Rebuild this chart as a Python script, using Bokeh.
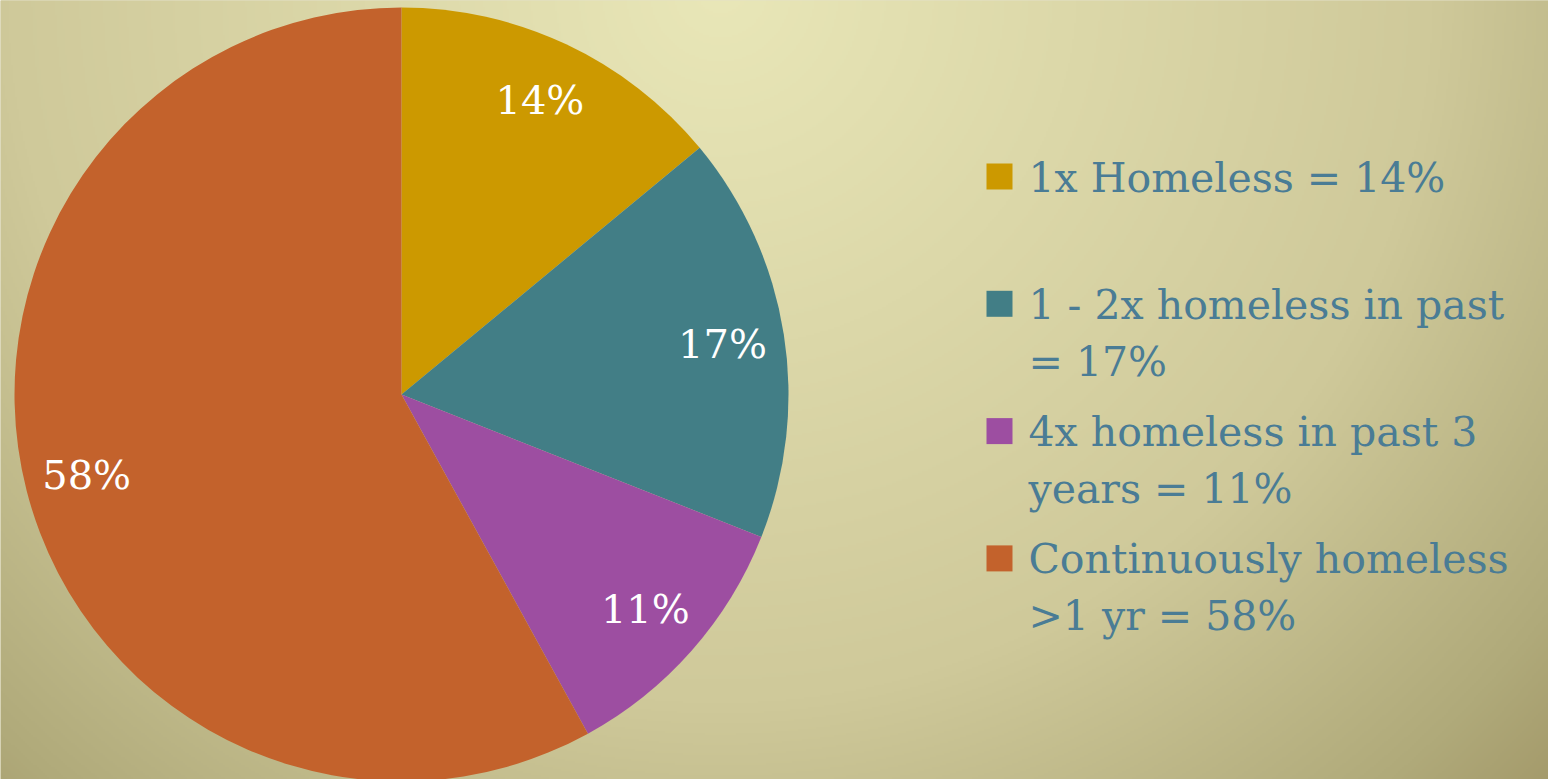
import numpy as np
from bokeh.plotting import figure
from bokeh.models import Range1d, ColumnDataSource
from bokeh.core.properties import value
from bokeh.embed import file_html
from bokeh.resources import INLINE

# ---- data ----
categories = ["1x Homeless", "1 - 2x homeless in past", "4x homeless in past 3 years", "Continuously homeless >1 yr"]
percents = [14, 17, 11, 58]
slice_labels = ["14%", "17%", "11%", "58%"]
legend_lines = [
    ["1x Homeless = 14%"],
    ["1 - 2x homeless in past", "= 17%"],
    ["4x homeless in past 3", "years = 11%"],
    ["Continuously homeless", ">1 yr = 58%"],
]
colors = ["#CC9900", "#427E86", "#9D4EA1", "#C3622C"]

W, H = 1548, 779

p = figure(width=W, height=H, output_backend="svg", toolbar_location=None,
           x_range=Range1d(0, W), y_range=Range1d(0, H), min_border=0)
p.axis.visible = False
p.grid.visible = False
p.outline_line_color = None
p.background_fill_color = "#C9C393"
p.border_fill_color = "#C9C393"

# ---- background radial gradient (style) ----
sc = 2
gw, gh = W // sc, H // sc + 1
xs = (np.arange(gw) + 0.5) * sc
ys_data = (np.arange(gh) + 0.5) * sc
ys_ref = H - ys_data
X, Y = np.meshgrid(xs, ys_ref)
d = np.sqrt((X - 720.0) ** 2 + (Y + 10.0) ** 2) / 1150.0
stops = [0.0, 0.62, 0.9, 1.05]
cols = np.array([[233, 231, 184], [207, 201, 154], [176, 170, 122], [158, 146, 99]], dtype=float)
img = np.zeros((gh, gw, 4), dtype=np.uint8)
for c in range(3):
    img[..., c] = np.interp(d, stops, cols[:, c]).astype(np.uint8)
img[..., 3] = 255
p.image_rgba(image=[img.view(dtype=np.uint32).reshape((gh, gw))], x=0, y=0, dw=W, dh=gh * sc)

# ---- pie ----
cx, cy = 401, H - 394
R = 387
vals = np.array(percents, dtype=float)
frac = vals / vals.sum()
cum = np.concatenate([[0], np.cumsum(frac)])
start_deg = 90 - cum[:-1] * 360
end_deg = 90 - cum[1:] * 360
src = ColumnDataSource(dict(start=np.radians(end_deg), end=np.radians(start_deg), color=colors))
p.wedge(x=cx, y=cy, radius=R, start_angle="start", end_angle="end", color="color",
        line_color=None, source=src)

mid = np.radians((start_deg + end_deg) / 2)
lr = 0.84 * R
p.text(x=cx + lr * np.cos(mid), y=cy + lr * np.sin(mid), text=slice_labels,
       text_color="white", text_font=value("DejaVu Serif"), text_font_size="40px",
       text_align="center", text_baseline="middle")

# ---- legend ----
step = 127.3
first_center = 176
sq_x = 999
txt_x = 1028
line_gap = 57
sqx, sqy, tx, ty, tt = [], [], [], [], []
for i, lines in enumerate(legend_lines):
    cyi = first_center + i * step
    sqx.append(sq_x)
    sqy.append(H - cyi)
    for j, ln in enumerate(lines):
        tx.append(txt_x)
        ty.append(H - (cyi + 1 + j * line_gap))
        tt.append(ln)
p.rect(x=sqx, y=sqy, width=26, height=26, color=colors, line_color=None)
p.text(x=tx, y=ty, text=tt, text_color="#4A7C95", text_font=value("DejaVu Serif"),
       text_font_size="41px", text_align="left", text_baseline="alphabetic")

open("out.html", "w").write(file_html(p, INLINE))
